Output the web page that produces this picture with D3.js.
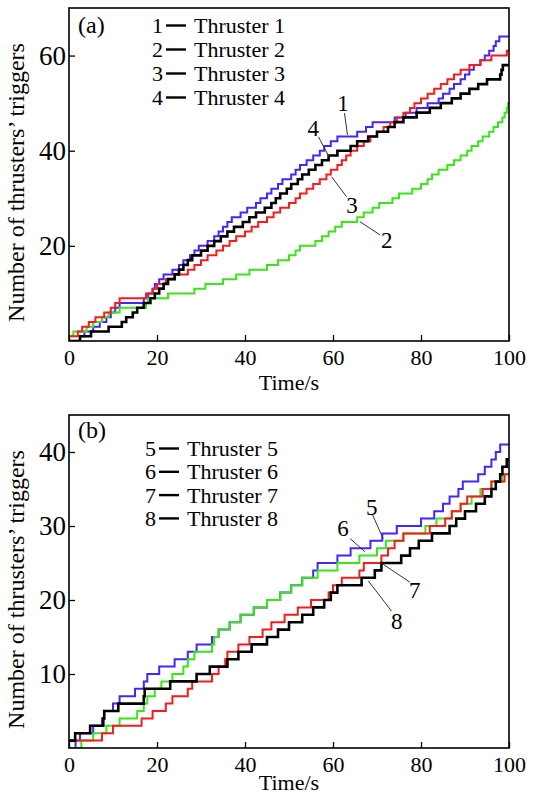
<!DOCTYPE html>
<html>
<head>
<meta charset="utf-8">
<script src="https://cdn.jsdelivr.net/npm/d3@7"></script>
<style>
    body { margin: 0; background: #fff; }
    svg text { font-family: "Liberation Serif", "DejaVu Serif", serif; }
</style>
</head>
<body>
<svg id="chart" width="533" height="805"></svg>
<script>
// axis ticks
var timeTicks = [0, 20, 40, 60, 80, 100];
var countTicksA = [20, 40, 60];
var countTicksB = [10, 20, 30, 40];

// thruster numbers and count at t = 0
var thrustersA = [1, 2, 3, 4];
var thrustersB = [5, 6, 7, 8];
var startCountsA = [0, 1, 1, 0];
var startCountsB = [0, 0, 1, 1];

// trigger times (s), one entry per trigger
var thruster1Times = [2.5, 3.5, 5.5, 7, 8.5, 9.5, 10.5, 11.5, 17, 18, 19, 19.5, 20.5, 21.5, 23.5, 25,
    26, 27.5, 28.5, 29.5, 31.5, 33, 34, 35, 36, 37, 39, 40.5, 42.5, 43.5, 45, 46, 47.5, 48.5, 50.5,
    51.5, 52.5, 54, 55.5, 57, 58, 59.5, 61, 65.5, 67.5, 69, 74, 76.5, 79, 81.5, 84, 85, 86.5, 87.5,
    89, 90, 91, 92, 93.5, 94.5, 95.5, 96.5, 97, 97.8];
var thruster2Times = [1, 4, 5.5, 7.5, 9, 11.5, 17.5, 18, 22.5, 28.5, 31, 35, 38, 41, 45, 47.5, 50,
    51.5, 52.5, 56, 57.5, 59, 60.5, 62, 65.5, 67, 69, 70.5, 73.5, 75, 78, 80, 81.5, 82.5, 84, 86,
    87.5, 89, 90.5, 91.5, 93, 94, 95.5, 96.5, 97.5, 98.5, 99, 99.5, 99.8];
var thruster3Times = [2, 3, 4.5, 6, 8, 9.5, 10.5, 11.5, 17.5, 19, 20, 22, 24, 27, 28.5, 30, 31.5,
    33.5, 35, 36.5, 38, 40, 41.5, 43, 45, 46.5, 48, 50, 51.5, 52.5, 54, 55.5, 57, 58.5, 59.5, 61,
    62, 63, 64, 65.5, 67, 68.5, 70, 71.5, 73, 74.5, 76, 77.5, 78.5, 80, 81.5, 83, 84.5, 86, 87.5,
    89, 91, 93.5, 96, 99.5];
var thruster4Times = [2.5, 5, 9, 12, 13, 14.5, 15.5, 17, 18.5, 19.5, 20.5, 21.5, 22.5, 24, 25, 26,
    27, 28, 30, 31.5, 33, 34.5, 36, 37.5, 39.5, 41, 42.5, 44.5, 46, 47, 48, 49.5, 50.5, 52, 53,
    54.5, 56, 57.5, 59, 61, 64, 65.5, 68, 70, 72.5, 74, 76, 79, 82, 84.5, 87, 89, 91, 93, 95, 98,
    98.3, 98.6];
var thruster5Times = [1.5, 2.5, 5.5, 7.5, 8, 10, 11.5, 15, 17, 17.8, 20.5, 24, 27, 29, 32.5, 34,
    36.5, 39, 42, 45, 48, 50.5, 53, 55.5, 56.5, 61, 64, 68.5, 71.2, 74.5, 80, 83, 85, 86.5, 88.5,
    89.5, 93, 94.5, 96, 97, 98];
var thruster6Times = [2.8, 5.5, 8.5, 11.5, 15.5, 17, 17.8, 19.5, 21, 23.5, 26, 27, 28.5, 32.5, 33,
    34, 36.5, 39, 42, 45, 48, 50.5, 53, 56.5, 61, 66, 70, 72, 76, 81, 83.5, 87, 89, 91.5, 93.5, 96,
    98.5];
var thruster7Times = [7.5, 10, 16.5, 19, 22, 23.5, 27, 28, 32.5, 34, 35.5, 36, 38.5, 41, 44, 46, 49,
    52, 55, 59, 60, 62, 66, 67, 71, 72.5, 74, 76, 82, 85.5, 87, 89, 90.5, 94, 96, 99];
var thruster8Times = [1.4, 4.8, 7.8, 8, 11.2, 17, 17.2, 23, 29, 32, 36, 38.5, 41.5, 45, 47.5, 50,
    53, 55.5, 58, 59.5, 61, 66.5, 69.5, 71, 75.5, 77.5, 79.5, 82.5, 86.5, 88, 90, 92.5, 94.5, 96,
    97, 98, 98.5, 99.5];

var lineColors = ["#4424ff", "#3be41c", "#f41c1c", "#000000"];
var lineWidths = [2, 2, 2, 2.6];
var serif = "'Liberation Serif', 'DejaVu Serif', serif";

var svg = d3.select("#chart");

function stepPoints(start, times) {
    var pts = [[0, start]];
    times.forEach(function (t, i) {
        pts.push([t, start + i + 1]);
    });
    pts.push([100, start + times.length]);
    return pts;
}

function drawPanel(p) {
    var x = d3.scaleLinear().domain([0, 100]).range([69, 509]);
    var y = d3.scaleLinear().domain([0, p.yMax]).range([p.bottom, p.top]);

    var g = svg.append("g").style("font-family", serif);

    // x axis, ticks pointing inward
    var gx = g.append("g")
        .attr("transform", "translate(0," + p.bottom + ")")
        .call(d3.axisBottom(x).tickValues(timeTicks).tickSizeInner(-6).tickSizeOuter(0).tickPadding(8));
    gx.attr("font-family", null);
    gx.select(".domain").remove();
    gx.selectAll("line").attr("stroke", "#000").attr("stroke-width", 1.3);
    gx.selectAll("text").style("font-family", serif).attr("font-size", 22).attr("fill", "#000");

    var gy = g.append("g")
        .attr("transform", "translate(69,0)")
        .call(d3.axisLeft(y).tickValues(p.yTicks).tickSizeInner(-6).tickSizeOuter(0).tickPadding(3));
    gy.attr("font-family", null);
    gy.select(".domain").remove();
    gy.selectAll("line").attr("stroke", "#000").attr("stroke-width", 1.3);
    gy.selectAll("text").style("font-family", serif).attr("font-size", 27).attr("fill", "#000");

    var line = d3.line()
        .x(function (d) { return x(d[0]); })
        .y(function (d) { return y(d[1]); })
        .curve(d3.curveStepAfter);

    var clipId = "clip" + p.tag;
    svg.append("clipPath").attr("id", clipId)
        .append("rect").attr("x", 69).attr("y", p.top).attr("width", 440).attr("height", p.bottom - p.top);

    g.append("g").attr("clip-path", "url(#" + clipId + ")")
        .selectAll("path")
        .data(p.series)
        .enter()
        .append("path")
        .attr("d", function (d) { return line(stepPoints(d.start, d.times)); })
        .attr("fill", "none")
        .attr("stroke", function (d, i) { return lineColors[i]; })
        .attr("stroke-width", function (d, i) { return lineWidths[i]; })
        .attr("stroke-linejoin", "miter");

    // frame
    g.append("rect")
        .attr("x", 69).attr("y", p.top)
        .attr("width", 440).attr("height", p.bottom - p.top)
        .attr("fill", "none").attr("stroke", "#000").attr("stroke-width", 1.6);

    // panel tag
    g.append("text")
        .attr("x", 78).attr("y", p.tagY)
        .attr("font-size", 24)
        .text("(" + p.tag + ")");

    // legend
    var leg = g.selectAll(".leg")
        .data(p.series)
        .enter()
        .append("g")
        .attr("transform", function (d, i) { return "translate(0," + (p.legY + i * p.legStep) + ")"; });
    leg.append("text")
        .attr("x", p.legX).attr("font-size", 22)
        .text(function (d) { return d.num; });
    leg.append("line")
        .attr("x1", p.legX + 14).attr("x2", p.legX + 34)
        .attr("y1", -7.5).attr("y2", -7.5)
        .attr("stroke", "#000").attr("stroke-width", 2.4);
    leg.append("text")
        .attr("x", p.legX + 42).attr("font-size", 22)
        .text(function (d) { return "Thruster " + d.num; });

    // callouts
    var ann = g.selectAll(".ann")
        .data(p.notes)
        .enter()
        .append("g");
    ann.append("line")
        .attr("x1", function (d) { return x(d.from[0]); })
        .attr("y1", function (d) { return y(d.from[1]); })
        .attr("x2", function (d) { return x(d.to[0]); })
        .attr("y2", function (d) { return y(d.to[1]); })
        .attr("stroke", "#333").attr("stroke-width", 1);
    ann.append("text")
        .attr("x", function (d) { return x(d.at[0]); })
        .attr("y", function (d) { return y(d.at[1]); })
        .attr("dy", "0.35em")
        .attr("text-anchor", "middle")
        .attr("font-size", 23)
        .text(function (d) { return d.label; });

    // axis titles
    g.append("text")
        .attr("x", 289).attr("y", p.titleY)
        .attr("text-anchor", "middle").attr("font-size", 22)
        .text("Time/s");
    g.append("text")
        .attr("transform", "translate(24," + ((p.top + p.bottom) / 2 + 8) + ") rotate(-90)")
        .attr("text-anchor", "middle").attr("font-size", 24)
        .text("Number of thrusters\u2019 triggers");
}

drawPanel({
    tag: "a", top: 8, bottom: 341, yMax: 70, yTicks: countTicksA, titleY: 390,
    tagY: 33, legX: 152, legY: 33, legStep: 24,
    series: [
        { num: thrustersA[0], start: startCountsA[0], times: thruster1Times },
        { num: thrustersA[1], start: startCountsA[1], times: thruster2Times },
        { num: thrustersA[2], start: startCountsA[2], times: thruster3Times },
        { num: thrustersA[3], start: startCountsA[3], times: thruster4Times }
    ],
    notes: [
        { label: "1", at: [62.3, 50], from: [62.6, 47.9], to: [63.3, 43.3] },
        { label: "4", at: [55.5, 44.7], from: [56.7, 42.9], to: [59.3, 38.4] },
        { label: "3", at: [64.3, 28.6], from: [63.1, 30.3], to: [59.7, 34.5] },
        { label: "2", at: [72.2, 21.2], from: [70.7, 22.3], to: [66.1, 25.1] }
    ]
});

drawPanel({
    tag: "b", top: 415, bottom: 748, yMax: 45, yTicks: countTicksB, titleY: 790,
    tagY: 438, legX: 145, legY: 456, legStep: 23.3,
    series: [
        { num: thrustersB[0], start: startCountsB[0], times: thruster5Times },
        { num: thrustersB[1], start: startCountsB[1], times: thruster6Times },
        { num: thrustersB[2], start: startCountsB[2], times: thruster7Times },
        { num: thrustersB[3], start: startCountsB[3], times: thruster8Times }
    ],
    notes: [
        { label: "5", at: [68.8, 32.6], from: [69.0, 31.5], to: [71.4, 28.3] },
        { label: "6", at: [62.3, 29.7], from: [63.9, 28.3], to: [67.3, 26.5] },
        { label: "7", at: [78.6, 21.3], from: [77.5, 22.4], to: [70.7, 25.1] },
        { label: "8", at: [74.5, 17.2], from: [73.3, 18.5], to: [68.0, 22.6] }
    ]
});

// figure caption, cut off by the page edge
svg.append("text")
    .attr("x", -55).attr("y", 820)
    .attr("font-size", 22)
    .attr("letter-spacing", 2.5)
    .attr("word-spacing", 2)
    .text("Fig. 10 Numbers of thrusters\u2019 triggers: (a) Thrusters 1\u20134; (b) Thrusters 5\u20138");
</script>
</body>
</html>
